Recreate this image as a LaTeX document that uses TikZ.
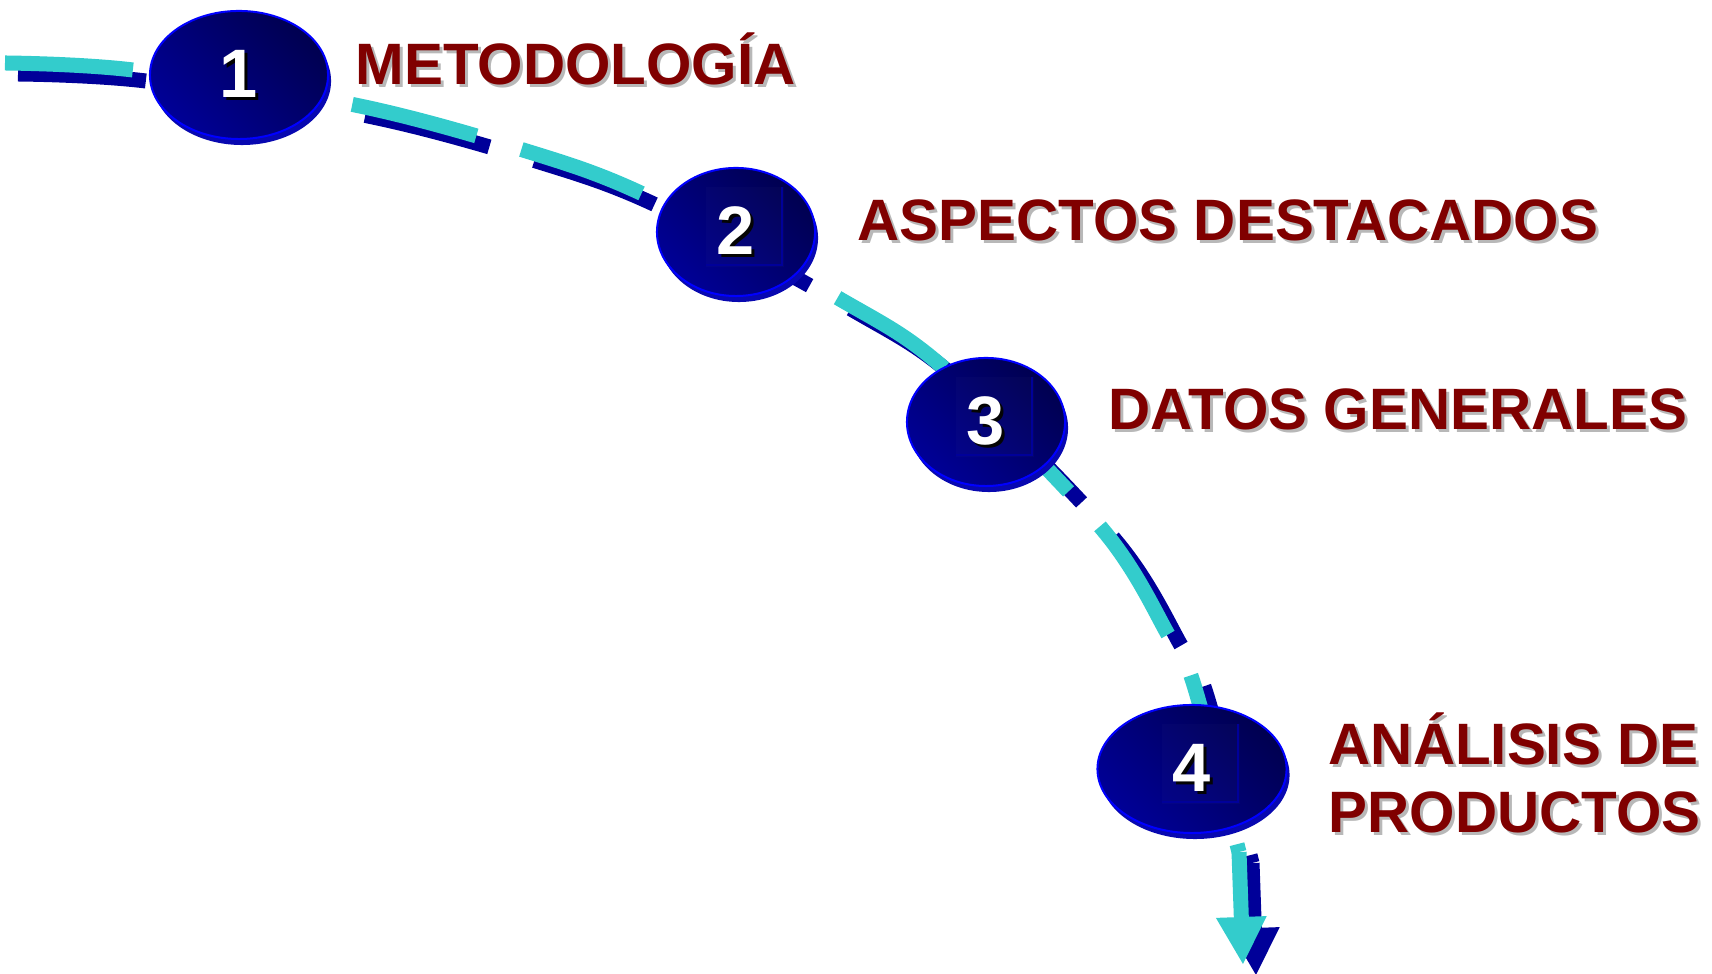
\documentclass[tikz,border=0pt]{standalone}
\usepackage{fontspec}
\setmainfont{Liberation Sans}
\usepackage{xcolor}
\usepackage{tikz}
\usetikzlibrary{
	positioning,     % posizionamento relativo
	arrows.meta,     % punta Triangle
	shapes.geometric,% forma ellipse
	shadows          % bordo in rilievo delle ellissi
}

\definecolor{turquesa}{HTML}{33CCCC}
\definecolor{azulsombra}{HTML}{000099}
\definecolor{azulborde}{HTML}{0000FF}
\definecolor{azulclaro}{HTML}{000096}
\definecolor{azuloscuro}{HTML}{000050}
\definecolor{azulcanto}{HTML}{0808B0}
\definecolor{granate}{HTML}{800000}
\definecolor{grissombra}{HTML}{B8B8B8}

% testo con ombra spostata in basso a destra
\newcommand{\consombra}[2]{\leavevmode\rlap{\kern0.03cm\raisebox{-0.03cm}{\textcolor{#1}{#2}}}#2}

\tikzset{
	camino/.style={line width=0.15cm, dash pattern=on 1.28cm off 0.47cm},
	flecha/.style={line width=0.15cm, -{Triangle[width=0.47cm, length=0.48cm]}},
	etapa/.style={ellipse, inner sep=0pt, minimum height=1.28cm,
		left color=azulclaro, right color=azuloscuro, shading angle=135,
		draw=azulborde, line width=0.02cm, text=white,
		font=\bfseries\fontsize{19.5pt}{22pt}\selectfont,
		general shadow={fill=azulcanto, shadow xshift=0.03cm, shadow yshift=-0.06cm}},
	cuadro/.style={fill=white, fill opacity=0.015},
	cuadroborde/.style={draw=azulsombra, line width=0.025cm},
	rotulo/.style={anchor=base west, inner sep=0pt, text=granate, align=left,
		font=\bfseries\fontsize{16.6pt}{19.4pt}\selectfont}
}

\begin{document}
\begin{tikzpicture}[x=0.01cm, y=-0.01cm]
		% --- Riquadro ---
		\useasboundingbox (0,0) rectangle (1712,974);
		
		% --- Punti di passaggio del cammino ---
		\coordinate (w0) at (5,63);
		\coordinate (w1) at (133,70);
		\coordinate (w2) at (355,105);
		\coordinate (w3) at (523,150);
		\coordinate (w4) at (645,195);
		\coordinate (w5) at (838,298);
		\coordinate (w6) at (945,369);
		\coordinate (w7) at (1103,530);
		\coordinate (w8) at (1170,638);
		\coordinate (w9) at (1193,682);
		\coordinate (w10) at (1239,852);
		\coordinate (punta) at (1243,965);
		
		% --- Cammino tratteggiato: prima l'ombra, poi il tratto ---
		\begin{scope}[transform canvas={xshift=0.13cm, yshift=-0.11cm}]
			\draw[camino, azulsombra] plot[smooth, tension=0.55] coordinates
				{(w0) (w1) (w2) (w3) (w4) (w5) (w6) (w7) (w8) (w9) (w10)};
			\draw[flecha, azulsombra] (w10) -- (punta);
		\end{scope}
		\draw[camino, turquesa] plot[smooth, tension=0.55] coordinates
			{(w0) (w1) (w2) (w3) (w4) (w5) (w6) (w7) (w8) (w9) (w10)};
		\draw[flecha, turquesa] (w10) -- (punta);
		
		% --- Ellissi numerate ---
		\node[etapa, minimum width=1.78cm] (n1) at (239,75) {\consombra{black}{1}};
		\node[etapa, minimum width=1.58cm] (n2) at (736,232) {\consombra{black}{2}};
		\node[etapa, minimum width=1.58cm] (n3) at (986,422) {\consombra{black}{3}};
		\node[etapa, minimum width=1.89cm] (n4) at (1192,769) {\consombra{black}{4}};
		
		% Quadrato chiaro dietro il numero
		\foreach \n in {2,3,4}{
			\fill[cuadro] ([shift={(-30,-45)}]n\n.center) rectangle ([shift={(48,35)}]n\n.center);
			\draw[cuadroborde] ([shift={(46,-45)}]n\n.center) |- ([shift={(-30,33)}]n\n.center);
		}
		
		% --- Etichette ---
		\node[rotulo] (r1) at (355,85) {\consombra{grissombra}{METODOLOGÍA}};
		\node[rotulo] (r2) at (857,241) {\consombra{grissombra}{ASPECTOS DESTACADOS}};
		\node[rotulo] (r3) at (1108,430) {\consombra{grissombra}{DATOS GENERALES}};
		\node[rotulo] (r4) at (1328,833) {\consombra{grissombra}{ANÁLISIS DE}\\
			\consombra{grissombra}{PRODUCTOS}};
	\end{tikzpicture}
\end{document}
